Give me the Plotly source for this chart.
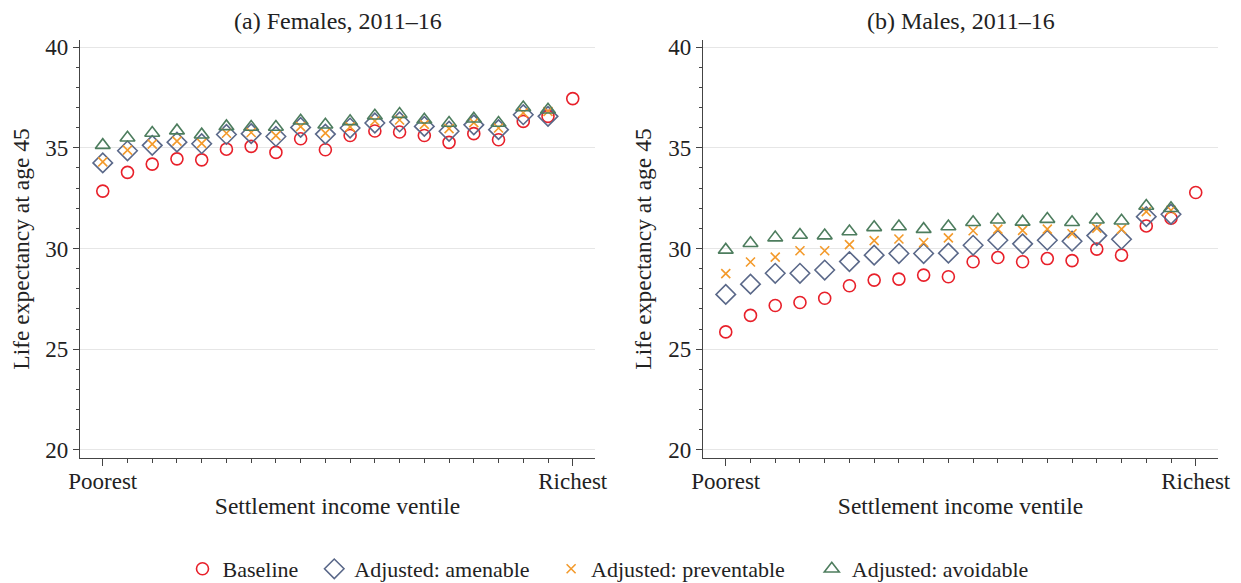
import plotly.graph_objects as go

ventiles = list(range(1, 21))

f_baseline = [32.85, 33.78, 34.19, 34.45, 34.4, 34.93, 35.07, 34.77, 35.45, 34.9,
              35.61, 35.83, 35.78, 35.61, 35.27, 35.7, 35.4, 36.31, 36.56, 37.44]
f_amenable = [34.25, 34.85, 35.12, 35.28, 35.2, 35.66, 35.7, 35.56, 36.01, 35.68,
              35.98, 36.23, 36.28, 36.06, 35.82, 36.14, 35.9, 36.64, 36.56, None]
f_preventable = [34.3, 34.88, 35.18, 35.33, 35.22, 35.72, 35.76, 35.6, 36.05, 35.73,
                 36.04, 36.33, 36.38, 36.16, 35.95, 36.25, 35.98, 36.74, 36.8, None]
f_avoidable = [35.13, 35.5, 35.73, 35.85, 35.65, 36.06, 36.03, 36.03, 36.34, 36.14,
               36.31, 36.59, 36.67, 36.39, 36.23, 36.44, 36.23, 37.0, 36.89, None]

m_baseline = [25.86, 26.68, 27.17, 27.32, 27.53, 28.15, 28.43, 28.48, 28.68, 28.6,
              29.34, 29.55, 29.34, 29.5, 29.4, 29.97, 29.67, 31.12, 31.5, 32.78]
m_amenable = [27.72, 28.23, 28.77, 28.77, 28.93, 29.35, 29.67, 29.75, 29.75, 29.77,
              30.16, 30.41, 30.23, 30.41, 30.36, 30.64, 30.46, 31.58, 31.7, None]
m_preventable = [28.75, 29.33, 29.57, 29.89, 29.89, 30.19, 30.39, 30.47, 30.3, 30.53,
                 30.88, 30.96, 30.9, 30.96, 30.73, 31.01, 30.96, 31.83, 31.9, None]
m_avoidable = [29.93, 30.26, 30.54, 30.67, 30.64, 30.84, 31.05, 31.09, 30.96, 31.09,
               31.3, 31.43, 31.32, 31.46, 31.3, 31.43, 31.38, 32.11, 32.0, None]

series_names = ["Baseline", "Adjusted: amenable", "Adjusted: preventable", "Adjusted: avoidable"]
legend_pad = [2, 3, 4, 0]
colors = ["#e8202a", "#5a6889", "#f39a2b", "#4d7d5e"]
symbols = ["circle-open", "diamond-open", "x-thin-open", "triangle-up-open"]
sizes = [12, 15, 9, 13]

FONT = "Liberation Serif, Times New Roman, serif"
TXT = "#222"

# page body has an 8px margin; work in figure coords = page coords - 8
OFF = 8
W, H = 1241 - OFF, 583 - OFF


def px(p):
    return (p - OFF) / W


def py(p):
    return 1 - (p - OFF) / H


fig = go.Figure()

panels = [
    ("x", "y", [f_baseline, f_amenable, f_preventable, f_avoidable]),
    ("x2", "y2", [m_baseline, m_amenable, m_preventable, m_avoidable]),
]
for pi, (xa, ya, data) in enumerate(panels):
    for si, vals in enumerate(data):
        fig.add_trace(go.Scatter(
            x=ventiles, y=vals, mode="markers", xaxis=xa, yaxis=ya,
            name=series_names[si] + "\u00a0" * legend_pad[si], showlegend=(pi == 0),
            marker=dict(symbol=symbols[si], size=sizes[si], color=colors[si],
                        line=dict(width=1.6, color=colors[si])),
        ))

xcommon = dict(
    range=[0.08, 20.9], tickmode="array", tickvals=[1, 20], ticktext=["Poorest", "Richest"],
    ticks="outside", ticklen=7, tickcolor="#444", tickwidth=1.2,
    showline=True, linecolor="#444", linewidth=1.2, showgrid=False, zeroline=False,
    automargin=False, ticklabelstandoff=-5,
    minor=dict(tickmode="array", tickvals=list(range(2, 20)), ticks="outside", ticklen=4,
               tickcolor="#444", showgrid=False),
    tickfont=dict(family=FONT, size=23, color=TXT),
    title=dict(text="Settlement income ventile", font=dict(family=FONT, size=23.5, color=TXT), standoff=4),
)
ycommon = dict(
    range=[19.6, 40.35], tickmode="array", tickvals=[20, 25, 30, 35, 40],
    ticks="outside", ticklen=6, tickcolor="#444", tickwidth=1.2,
    showline=True, linecolor="#444", linewidth=1.2, showgrid=True, gridcolor="#e6e6e6", gridwidth=1.2,
    zeroline=False, automargin=False,
    minor=dict(tickmode="array", tickvals=[v for v in range(20, 41) if v % 5], ticks="outside",
               ticklen=3, tickcolor="#444", showgrid=False),
    tickfont=dict(family=FONT, size=23, color=TXT),
    title=dict(text="Life expectancy at age 45", font=dict(family=FONT, size=23.5, color=TXT), standoff=10),
)

fig.update_layout(
    width=W, height=H,
    margin=dict(l=0, r=0, t=0, b=0, autoexpand=False),
    paper_bgcolor="white", plot_bgcolor="white",
    xaxis=dict(domain=[px(80), px(595)], anchor="y", **xcommon),
    yaxis=dict(domain=[py(458), py(40)], anchor="x", **ycommon),
    xaxis2=dict(domain=[px(703), px(1218)], anchor="y2", **xcommon),
    yaxis2=dict(domain=[py(458), py(40)], anchor="x2", **ycommon),
    legend=dict(orientation="h", x=px(182.5), xanchor="left", y=py(569), yanchor="middle",
                font=dict(family=FONT, size=22, color=TXT), itemsizing="trace",
                traceorder="normal", tracegroupgap=0),
    annotations=[
        dict(text="(a) Females, 2011\u201316", x=px((80 + 595) / 2), y=py(21),
             xref="paper", yref="paper", showarrow=False, xanchor="center", yanchor="middle",
             font=dict(family=FONT, size=24, color=TXT)),
        dict(text="(b) Males, 2011\u201316", x=px((703 + 1218) / 2), y=py(21),
             xref="paper", yref="paper", showarrow=False, xanchor="center", yanchor="middle",
             font=dict(family=FONT, size=24, color=TXT)),
    ],
)

fig.write_html("out.html")
